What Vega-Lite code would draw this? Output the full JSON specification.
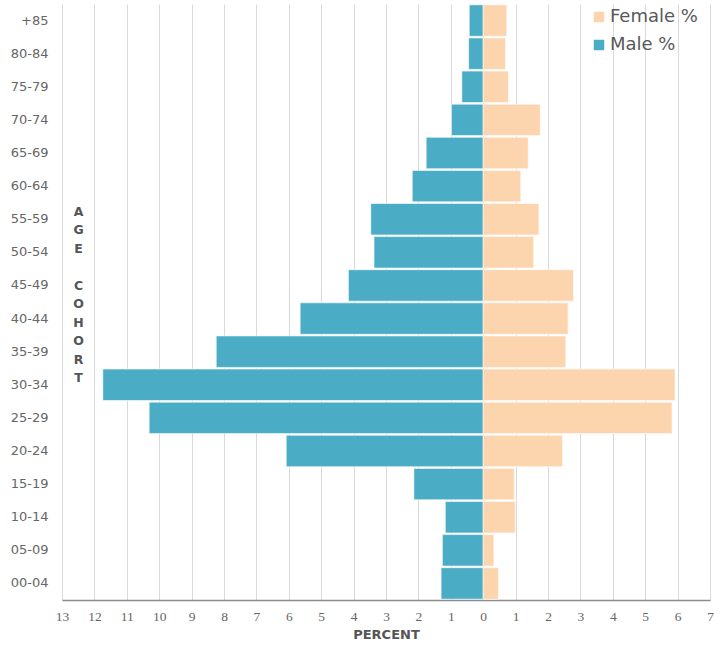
{
  "$schema": "https://vega.github.io/schema/vega-lite/v6.json",
  "width": 648,
  "height": 596,
  "autosize": {"type": "none"},
  "padding": {"left": 62, "top": 4, "right": 15, "bottom": 45},
  "background": "white",
  "data": {
    "values": [
      {"age": "+85", "sex": "Male %", "value": -0.43},
      {"age": "80-84", "sex": "Male %", "value": -0.45},
      {"age": "75-79", "sex": "Male %", "value": -0.66},
      {"age": "70-74", "sex": "Male %", "value": -0.98},
      {"age": "65-69", "sex": "Male %", "value": -1.76},
      {"age": "60-64", "sex": "Male %", "value": -2.19},
      {"age": "55-59", "sex": "Male %", "value": -3.47},
      {"age": "50-54", "sex": "Male %", "value": -3.37},
      {"age": "45-49", "sex": "Male %", "value": -4.16},
      {"age": "40-44", "sex": "Male %", "value": -5.65},
      {"age": "35-39", "sex": "Male %", "value": -8.24},
      {"age": "30-34", "sex": "Male %", "value": -11.74},
      {"age": "25-29", "sex": "Male %", "value": -10.31},
      {"age": "20-24", "sex": "Male %", "value": -6.08},
      {"age": "15-19", "sex": "Male %", "value": -2.14},
      {"age": "10-14", "sex": "Male %", "value": -1.17},
      {"age": "05-09", "sex": "Male %", "value": -1.26},
      {"age": "00-04", "sex": "Male %", "value": -1.3},
      {"age": "+85", "sex": "Female %", "value": 0.73},
      {"age": "80-84", "sex": "Female %", "value": 0.69},
      {"age": "75-79", "sex": "Female %", "value": 0.78},
      {"age": "70-74", "sex": "Female %", "value": 1.76},
      {"age": "65-69", "sex": "Female %", "value": 1.39},
      {"age": "60-64", "sex": "Female %", "value": 1.16},
      {"age": "55-59", "sex": "Female %", "value": 1.72},
      {"age": "50-54", "sex": "Female %", "value": 1.56},
      {"age": "45-49", "sex": "Female %", "value": 2.79},
      {"age": "40-44", "sex": "Female %", "value": 2.62},
      {"age": "35-39", "sex": "Female %", "value": 2.55},
      {"age": "30-34", "sex": "Female %", "value": 5.92},
      {"age": "25-29", "sex": "Female %", "value": 5.83},
      {"age": "20-24", "sex": "Female %", "value": 2.45},
      {"age": "15-19", "sex": "Female %", "value": 0.96},
      {"age": "10-14", "sex": "Female %", "value": 0.99},
      {"age": "05-09", "sex": "Female %", "value": 0.33},
      {"age": "00-04", "sex": "Female %", "value": 0.47}
    ]
  },
  "mark": {"type": "bar", "stroke": "#ffffff", "strokeWidth": 1, "strokeOpacity": 0.6},
  "encoding": {
    "y": {
      "field": "age",
      "type": "nominal",
      "sort": ["+85","80-84","75-79","70-74","65-69","60-64","55-59","50-54","45-49","40-44","35-39","30-34","25-29","20-24","15-19","10-14","05-09","00-04"],
      "scale": {"paddingInner": 0.05, "paddingOuter": 0.025},
      "axis": {
        "title": ["A","G","E","\u200b","C","O","H","O","R","T"],
        "titleAngle": 0,
        "titleX": 16,
        "titleY": 201,
        "titleAlign": "center",
        "titleBaseline": "top",
        "titleLineHeight": 18.5,
        "titleFont": "DejaVu Sans",
        "titleFontSize": 12.5,
        "titleFontWeight": "bold",
        "titleColor": "#555555",
        "domain": false,
        "ticks": false,
        "grid": false,
        "labelFont": "DejaVu Sans",
        "labelFontSize": 13,
        "labelColor": "#666666",
        "labelPadding": 14
      }
    },
    "x": {
      "field": "value",
      "type": "quantitative",
      "scale": {"domain": [-13, 7], "nice": false, "zero": false},
      "axis": {
        "title": "PERCENT",
        "values": [-13,-12,-11,-10,-9,-8,-7,-6,-5,-4,-3,-2,-1,0,1,2,3,4,5,6,7],
        "labelExpr": "abs(datum.value)",
        "labelFont": "Liberation Serif",
        "labelFontSize": 13.5,
        "labelColor": "#666666",
        "labelPadding": 9,
        "labelFlush": false,
        "ticks": false,
        "domainColor": "#8c8c8c",
        "domainWidth": 1.5,
        "gridColor": "#d9d9d9",
        "gridWidth": 1,
        "titleFont": "DejaVu Sans",
        "titleFontSize": 13,
        "titleFontWeight": "bold",
        "titleColor": "#555555",
        "titlePadding": 6
      }
    },
    "color": {
      "field": "sex",
      "type": "nominal",
      "scale": {"domain": ["Female %", "Male %"], "range": ["#FCD4AE", "#4BACC6"]},
      "legend": {
        "title": null,
        "orient": "none",
        "legendX": 528,
        "legendY": 4,
        "padding": 0,
        "symbolType": "square",
        "symbolSize": 110,
        "symbolStrokeWidth": 0,
        "labelFont": "DejaVu Sans",
        "labelFontSize": 18,
        "labelColor": "#595959",
        "labelOffset": 2,
        "rowPadding": 10
      }
    }
  },
  "config": {"view": {"stroke": null}}
}
